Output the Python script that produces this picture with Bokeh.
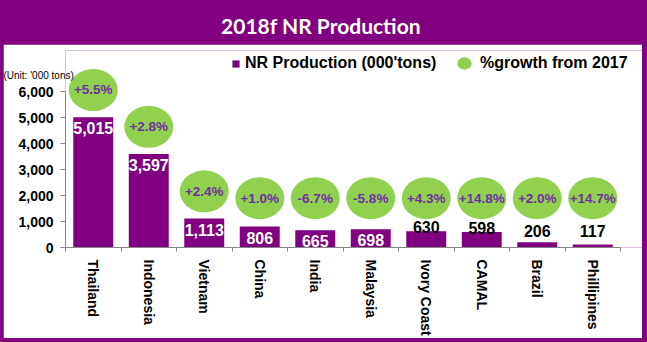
from bokeh.plotting import figure
from bokeh.layouts import column
from bokeh.models import (ColumnDataSource, Range1d, FixedTicker, NumeralTickFormatter,
                          Label, Legend, LegendItem, Title)
from bokeh.core.properties import value
from bokeh.embed import file_html
from bokeh.resources import INLINE

# ---- data ----
countries = ["Thailand", "Indonesia", "Vietnam", "China", "India", "Malaysia",
             "Ivory Coast", "CAMAL", "Brazil", "Phillipines"]
production = [5015, 3597, 1113, 806, 665, 698, 630, 598, 206, 117]
growth = [5.5, 2.8, 2.4, 1.0, -6.7, -5.8, 4.3, 14.8, 2.0, 14.7]
y_ticks = [0, 1000, 2000, 3000, 4000, 5000, 6000]
series_names = ["NR Production (000'tons)", "%growth from 2017"]
title_text = "2018f NR Production"
unit_text = "(Unit: '000 tons)"

# ---- styles ----
W, H = 647, 342
BL, BR, BB, HEAD = 3, 5, 4, 44      # purple frame widths and header band height
PW, PH = W - BL - BR, H - BB - HEAD  # main plot size
PURPLE = "#800080"
GREEN = "#92D050"
TXT_PURPLE = "#7030A0"
AXIS_GRAY = "#868686"
FONT = "Liberation Sans"
AXIS_PX = 555          # pixel length of the category axis
FRAME_PX = PW - 62     # frame width (frame reaches the right border)

n = len(countries)
xs = [i + 0.5 for i in range(n)]
bubble_y = [max(v + 1050, 1900) for v in production]
inside = [v >= 650 for v in production]

src = ColumnDataSource(dict(
    x=xs, prod=production, by=bubble_y,
    glabel=[f"{g:+.1f}%" for g in growth],
))
src_in = ColumnDataSource(dict(
    x=[x for x, k in zip(xs, inside) if k],
    y=[v for v, k in zip(production, inside) if k],
    t=[f"{v:,}" for v, k in zip(production, inside) if k],
))
src_out = ColumnDataSource(dict(
    x=[x for x, k in zip(xs, inside) if not k],
    y=[max(v, 500) for v, k in zip(production, inside) if not k],
    t=[f"{v:,}" for v, k in zip(production, inside) if not k],
))

# ---- header band ----
head = figure(width=PW, height=HEAD, output_backend="svg", toolbar_location=None,
              x_axis_type=None, y_axis_type=None, min_border=0,
              x_range=Range1d(0, 1), y_range=Range1d(0, 1))
head.outline_line_color = None
head.background_fill_color = PURPLE
head.border_fill_color = PURPLE
head.xgrid.visible = False
head.ygrid.visible = False
head.add_layout(Label(x=PW / 2 - 2, y=25, x_units="canvas", y_units="canvas",
                      text=title_text, text_align="center",
                      text_baseline="alphabetic", text_font="Lato",
                      text_font_style="bold", text_font_size="21px",
                      text_color="white"))

# ---- main plot ----
p = figure(width=PW, height=PH, output_backend="svg", toolbar_location=None,
           x_range=Range1d(0, n * FRAME_PX / AXIS_PX), y_range=Range1d(0, 7586),
           min_border_left=62, min_border_right=0, min_border_top=6,
           min_border_bottom=90)
p.outline_line_color = None
p.xgrid.visible = False
p.ygrid.visible = False
p.background_fill_color = "white"
p.border_fill_color = "white"

bars = p.vbar(x="x", top="prod", width=0.72, source=src,
              fill_color=PURPLE, line_color=None)
bub = p.ellipse(x="x", y="by", width=49, height=42, width_units="screen",
                height_units="screen", source=src, fill_color=GREEN, line_color=None)
p.text(x="x", y="by", text="glabel", source=src, text_align="center",
       text_baseline="middle", text_font=value(FONT), text_font_style="bold",
       text_font_size="13.5px", text_color=TXT_PURPLE)
p.text(x="x", y="y", text="t", source=src_in, text_align="center",
       text_baseline="top", y_offset=5, text_font=value(FONT),
       text_font_style="bold", text_font_size="16px", text_color="white")
p.text(x="x", y="y", text="t", source=src_out, text_align="center",
       text_baseline="middle", y_offset=-4, text_font=value(FONT),
       text_font_style="bold", text_font_size="16px", text_color="black")

# axes
ya = p.yaxis[0]
ya.ticker = FixedTicker(ticks=y_ticks)
ya.bounds = (y_ticks[0], y_ticks[-1])
ya.formatter = NumeralTickFormatter(format="0,0")
ya.major_label_text_font = FONT
ya.major_label_text_font_style = "bold"
ya.major_label_text_font_size = "14px"
ya.major_label_text_color = "black"
ya.major_tick_out = 5
ya.major_tick_in = 0
ya.minor_tick_out = 0
ya.minor_tick_in = 0
ya.axis_line_color = AXIS_GRAY
ya.major_tick_line_color = AXIS_GRAY
ya.major_label_standoff = 7

xa = p.xaxis[0]
xa.ticker = FixedTicker(ticks=xs, minor_ticks=list(range(n + 1)))
xa.bounds = (0, n)
xa.major_label_overrides = {x: c for x, c in zip(xs, countries)}
xa.major_label_orientation = "vertical"
xa.major_label_text_font = FONT
xa.major_label_text_font_style = "bold"
xa.major_label_text_font_size = "14px"
xa.major_label_text_color = "black"
xa.major_tick_out = 0
xa.major_tick_in = 0
xa.minor_tick_out = 4
xa.minor_tick_in = 0
xa.axis_line_color = AXIS_GRAY
xa.minor_tick_line_color = AXIS_GRAY
xa.major_label_standoff = 8

# legends
def mk_legend(renderer, label, loc, gw, gh, standoff):
    lg = Legend(items=[LegendItem(label=label, renderers=[renderer])],
                location=loc, orientation="horizontal",
                glyph_width=gw, glyph_height=gh, label_standoff=standoff,
                label_height=18, padding=0, margin=0, spacing=0,
                border_line_color=None, background_fill_alpha=0,
                label_text_font=FONT, label_text_font_style="bold",
                label_text_font_size="16px", label_text_color="black")
    p.add_layout(lg)

mk_legend(bars, series_names[0], (166, 175), 9, 9, 5)
mk_legend(bub, series_names[1], (390, 175), 18, 18, 7)

# unit note (placed in the top panel so it is not clipped by the frame)
p.add_layout(Title(text=unit_text, align="left", offset=-62, standoff=-60,
                   text_font=FONT, text_font_style="normal",
                   text_font_size="10px", text_color="black"), "above")

layout = column(head, p, spacing=0,
                styles={"background-color": PURPLE,
                        "padding": f"0px {BR}px {BB}px {BL}px"})

open("out.html", "w").write(file_html(layout, INLINE))
